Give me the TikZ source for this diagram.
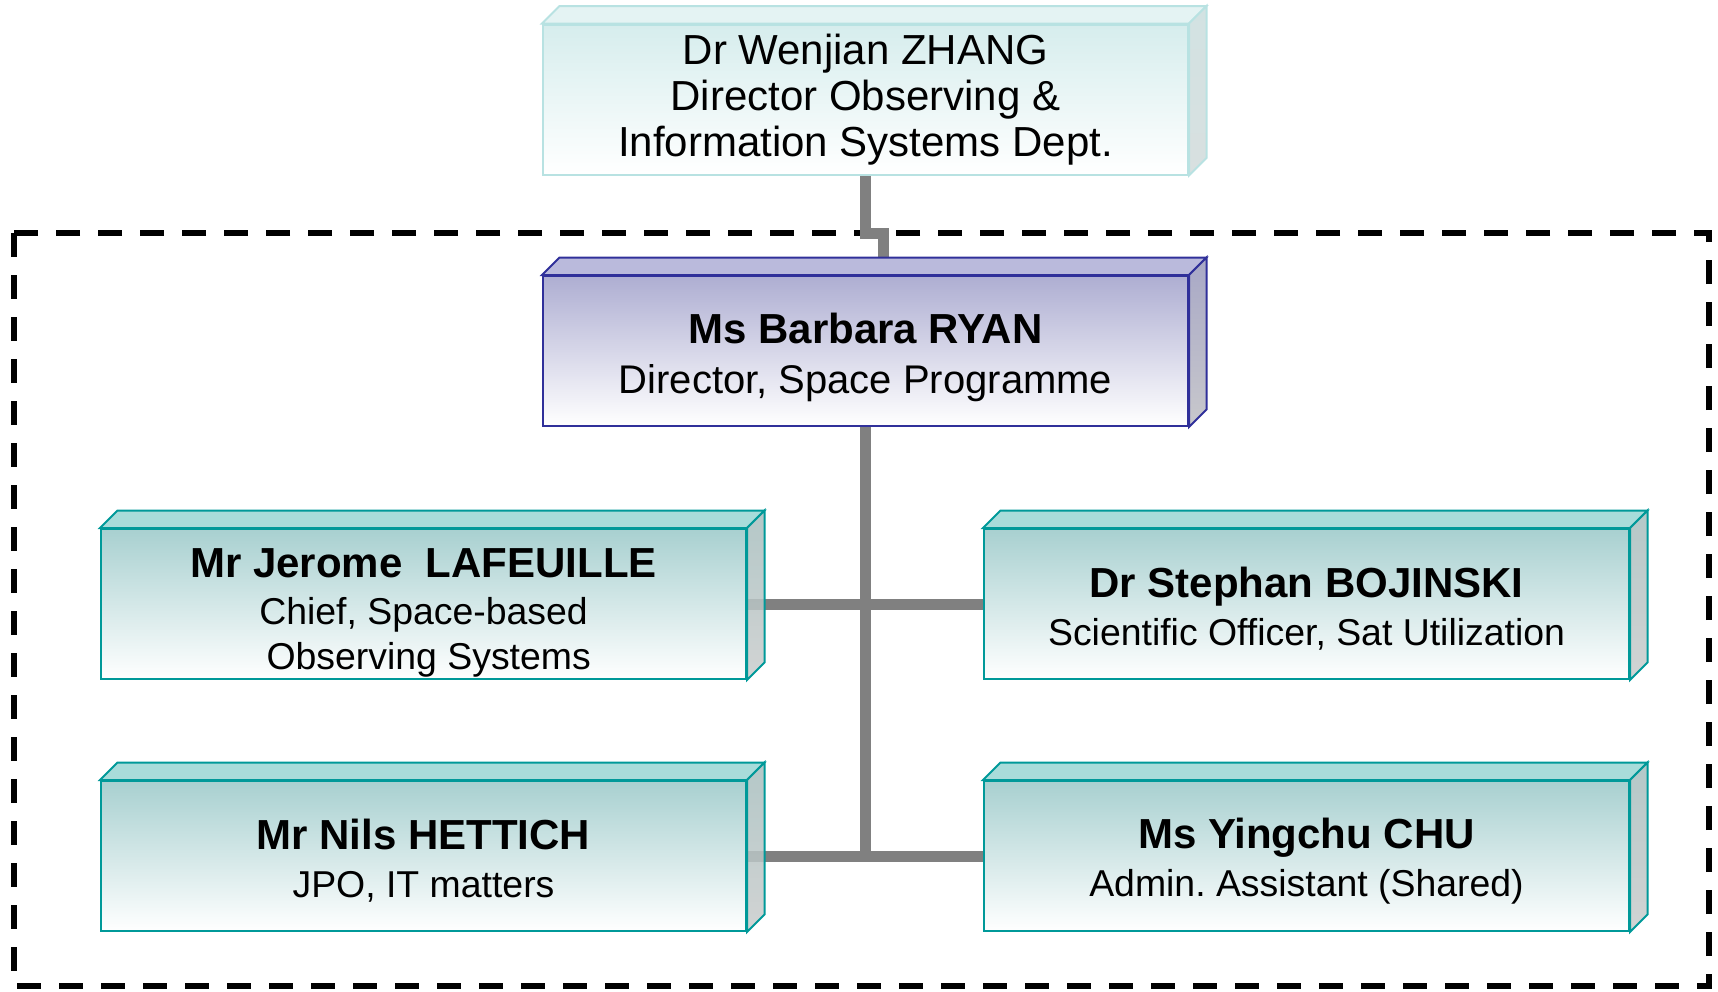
\documentclass[tikz,border=0pt]{standalone}
\usepackage{fontspec}
\setmainfont{Liberation Sans}
\usetikzlibrary{calc,backgrounds}
\frenchspacing

\definecolor{zhfront}{HTML}{D6EDED}
\definecolor{zhline}{HTML}{B8E2E2}
\definecolor{zhtopc}{HTML}{E4F3F3}
\definecolor{zhsidea}{HTML}{D2E2E2}
\definecolor{zhsideb}{HTML}{D8E0E0}
\definecolor{ryfront}{HTML}{AEAED2}
\definecolor{ryline}{HTML}{30309A}
\definecolor{rytopc}{HTML}{BABADC}
\definecolor{rysidea}{HTML}{A8A8C6}
\definecolor{rysideb}{HTML}{C8C8CC}
\definecolor{stfront}{HTML}{A8D0D0}
\definecolor{stline}{HTML}{009999}
\definecolor{sttopc}{HTML}{A8DCDA}
\definecolor{stsidea}{HTML}{A6BEBE}
\definecolor{stsideb}{HTML}{CACCCC}
\definecolor{linkgray}{HTML}{808080}

% bold heading line, the strut pushes the text block down
\newcommand\boxhead[2]{\rule{0pt}{#1}{\fontsize{21}{24}\selectfont\bfseries #2}}

\tikzset{
	box/.style={minimum width=322.5pt,minimum height=75pt,inner sep=0pt,align=center,line width=1pt,
		bottom color=white},
	zhbox/.style={box,draw=zhline,top color=zhfront,font=\fontsize{21}{23}\selectfont},
	rybox/.style={box,draw=ryline,top color=ryfront,font=\fontsize{20}{25}\selectfont},
	stbox/.style={box,draw=stline,top color=stfront,font=\fontsize{18.7}{22.5}\selectfont},
	zhtop/.style={fill=zhtopc,draw=zhline,line width=1pt},
	rytop/.style={fill=rytopc,draw=ryline,line width=1pt},
	sttop/.style={fill=sttopc,draw=stline,line width=1pt},
	zhside/.style={top color=zhsidea,bottom color=zhsideb,draw=zhline,line width=1pt},
	ryside/.style={top color=rysidea,bottom color=rysideb,draw=ryline,line width=1pt},
	stside/.style={top color=stsidea,bottom color=stsideb,draw=stline,line width=1pt,fill opacity=0.85},
	link/.style={draw=linkgray,line width=5.5pt},
	frame/.style={draw=black,line width=2.7pt,dash pattern=on 12pt off 9pt},
}

\begin{document}
\begin{tikzpicture}[x=0.5pt,y=-0.5pt]
		\useasboundingbox (0,0) rectangle (1718,991);
		\node[zhbox] (zhang) at (865.5,99.5) {Dr Wenjian ZHANG\\Director Observing \&\\Information Systems Dept.};
		\node[rybox] (ryan) at (865.5,351) {\boxhead{22pt}{Ms Barbara RYAN}\\Director, Space Programme};
		\node[stbox] (laf) at (423.5,604) {\boxhead{23pt}{Mr Jerome\ \ LAFEUILLE}\\[1pt]Chief, Space-based\\\ Observing Systems};
		\node[stbox] (boj) at (1306.5,604) {\boxhead{20pt}{Dr Stephan BOJINSKI}\\[1.5pt]Scientific Officer, Sat Utilization};
		\node[stbox] (het) at (423.5,856) {\boxhead{20pt}{Mr Nils HETTICH}\\[1.5pt]JPO, IT matters};
		\node[stbox] (chu) at (1306.5,856) {\boxhead{20pt}{Ms Yingchu CHU}\\[1.5pt]Admin. Assistant (Shared)};
		% 3d faces
		\foreach \n/\t/\s in {zhang/zhtop/zhside,ryan/rytop/ryside,laf/sttop/stside,boj/sttop/stside,het/sttop/stside,chu/sttop/stside}{
			\path[\t] (\n.north west) -- ++(8.75pt,8.75pt) -- ([shift={(8.75pt,8.75pt)}]\n.north east) -- (\n.north east) -- cycle;
			\path[\s] (\n.north east) -- ++(8.75pt,8.75pt) -- ([shift={(8.75pt,8.75pt)}]\n.south east) -- (\n.south east) -- cycle;
		}
		\begin{scope}[on background layer]
			\draw[frame] (14,233) rectangle (1709,986);
			\coordinate (fr) at (14,233);
			\draw[link] (zhang.south) -- (zhang.south |- fr) -- ++(8.75pt,0) -- ([shift={(8.75pt,8.75pt)}]ryan.north);
			\draw[link] (ryan.south) -- (ryan.south |- het.east);
			\draw[link] (laf.east) -- (boj.west);
			\draw[link] (het.east) -- (chu.west);
		\end{scope}
	\end{tikzpicture}
\end{document}
